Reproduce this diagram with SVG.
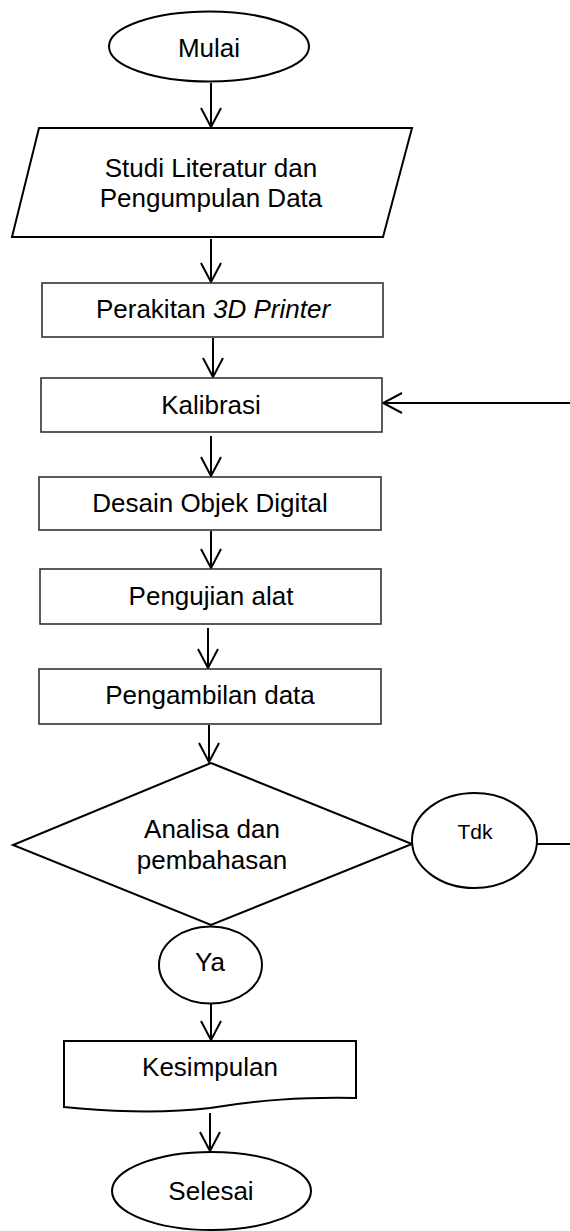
<svg xmlns="http://www.w3.org/2000/svg" width="570" height="1231" viewBox="0 0 570 1231">
<style>
.s{fill:#fff;stroke:#000;stroke-width:2}
.r{fill:#fff;stroke:#333;stroke-width:1.6}
.t{font-family:"Liberation Sans",Arial,sans-serif;font-size:26px;fill:#000;text-anchor:middle}
.c{fill:none;stroke:#000;stroke-width:2}
</style>
<defs>
<marker id="ah" viewBox="0 0 22 22" refX="20" refY="11" markerWidth="22" markerHeight="22" markerUnits="userSpaceOnUse" orient="auto">
<path d="M1,1 L20,11 L1,21" fill="none" stroke="#000" stroke-width="2"/>
</marker>
</defs>
<g id="connectors">
<line class="c" x1="211" y1="83" x2="211" y2="127" marker-end="url(#ah)"/>
<line class="c" x1="211" y1="239" x2="211" y2="282" marker-end="url(#ah)"/>
<line class="c" x1="213" y1="338" x2="213" y2="377" marker-end="url(#ah)"/>
<line class="c" x1="211" y1="436" x2="211" y2="476" marker-end="url(#ah)"/>
<line class="c" x1="211" y1="531" x2="211" y2="568" marker-end="url(#ah)"/>
<line class="c" x1="208" y1="628" x2="208" y2="668" marker-end="url(#ah)"/>
<line class="c" x1="209" y1="725" x2="209" y2="762" marker-end="url(#ah)"/>
<line class="c" x1="211" y1="1004" x2="211" y2="1040" marker-end="url(#ah)"/>
<line class="c" x1="210" y1="1113" x2="210" y2="1151" marker-end="url(#ah)"/>
<line class="c" x1="537" y1="844" x2="571" y2="844"/>
<line class="c" x1="571" y1="403" x2="383" y2="403" marker-end="url(#ah)"/>
</g>
<g id="mulai">
<ellipse class="s" cx="209" cy="46.5" rx="100" ry="35"/>
<text class="t" x="209" y="57">Mulai</text>
</g>
<g id="studi">
<polygon class="s" points="39,128 412,128 383,237 12,237"/>
<text class="t" x="211" y="177">Studi Literatur dan</text>
<text class="t" x="211" y="207">Pengumpulan Data</text>
</g>
<g id="perakitan">
<rect class="r" x="42" y="283" width="341" height="54"/>
<text class="t" x="213" y="318">Perakitan <tspan font-style="italic">3D Printer</tspan></text>
</g>
<g id="kalibrasi">
<rect class="r" x="41" y="378" width="341" height="54"/>
<text class="t" x="211" y="414">Kalibrasi</text>
</g>
<g id="desain">
<rect class="r" x="39" y="477" width="342" height="53"/>
<text class="t" x="210" y="512">Desain Objek Digital</text>
</g>
<g id="pengujian">
<rect class="r" x="40" y="569" width="341" height="55"/>
<text class="t" x="211" y="605">Pengujian alat</text>
</g>
<g id="pengambilan">
<rect class="r" x="39" y="669" width="342" height="55"/>
<text class="t" x="210" y="704">Pengambilan data</text>
</g>
<g id="analisa">
<polygon class="s" points="211,763 412,844 211,925 13,845"/>
<text class="t" x="212" y="838">Analisa dan</text>
<text class="t" x="212" y="869">pembahasan</text>
</g>
<g id="tdk">
<ellipse class="s" cx="474.5" cy="840.5" rx="62.5" ry="47.5"/>
<text class="t" x="475" y="839" style="font-size:21px">Tdk</text>
</g>
<g id="ya">
<ellipse class="s" cx="210.5" cy="965" rx="51.5" ry="38.5"/>
<text class="t" x="210" y="971">Ya</text>
</g>
<g id="kesimpulan">
<path class="s" d="M64,1041 H356 V1098 C300,1097 260,1100 210,1108 C160,1114 100,1111 64,1107 Z"/>
<text class="t" x="210" y="1076">Kesimpulan</text>
</g>
<g id="selesai">
<ellipse class="s" cx="211.5" cy="1191" rx="99.5" ry="39"/>
<text class="t" x="211" y="1200">Selesai</text>
</g>
</svg>
